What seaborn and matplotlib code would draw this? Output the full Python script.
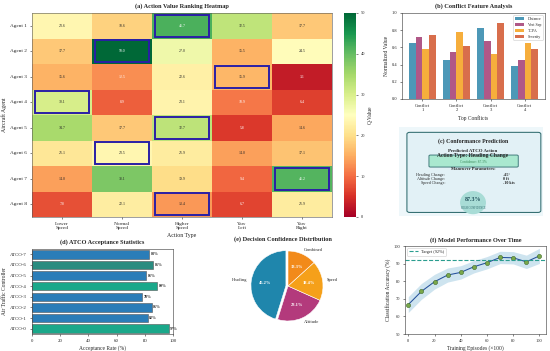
import matplotlib
matplotlib.use("Agg")
import matplotlib.pyplot as plt
from matplotlib.patches import Rectangle, FancyBboxPatch, Ellipse
from matplotlib.lines import Line2D
import numpy as np
import pandas as pd
import seaborn as sns

# ---- data ----
agents = [f"Agent {i}" for i in range(1, 9)]
actions = ["Lower\nSpeed", "Normal\nSpeed", "Higher\nSpeed", "Yaw\nLeft", "Yaw\nRight"]
q_values = np.array([
    [23.6, 18.6, 41.7, 32.5, 17.7],
    [17.7, 50.0, 27.0, 15.5, 24.5],
    [15.6, 12.5, 22.6, 15.9, 3.1],
    [30.1, 8.9, 23.1, 10.9, 6.4],
    [34.7, 17.7, 32.7, 5.8, 14.6],
    [21.1, 23.5, 21.9, 14.0, 17.1],
    [14.0, 38.1, 19.9, 9.4, 41.2],
    [7.8, 22.1, 13.4, 6.7, 21.9],
])
chosen_action = [2, 1, 3, 0, 2, 1, 4, 2]

conflicts = ["Conflict\n1", "Conflict\n2", "Conflict\n3", "Conflict\n4"]
features = ["Distance", "Vert Sep", "TCPA", "Severity"]
distance = [0.65, 0.45, 0.82, 0.38]
vert_sep = [0.72, 0.55, 0.68, 0.45]
tcpa = [0.58, 0.78, 0.52, 0.65]
severity = [0.75, 0.62, 0.88, 0.58]

atcos = [f"ATCO-{i}" for i in range(8)]
acceptance = [97, 82, 85, 78, 89, 81, 86, 83]

decision_types = ["Heading", "Altitude", "Speed", "Combined"]
decision_share = [45.2, 23.1, 18.4, 13.3]

episodes = [0, 10, 20, 30, 40, 50, 60, 70, 80, 90, 100]
accuracy = [66.7, 74.2, 79.7, 83.5, 85.0, 88.2, 90.5, 93.5, 93.3, 91.0, 94.4]
accuracy_std = [4.5, 4.5, 4.2, 4.0, 3.8, 3.5, 3.5, 3.5, 3.5, 3.8, 4.3]
target_acc = 92

# ---- style ----
sns.set_style("ticks")
plt.rcParams["font.family"] = ["Liberation Serif", "DejaVu Serif"]
plt.rcParams["font.size"] = 7.5
plt.rcParams["axes.edgecolor"] = "#333333"
plt.rcParams["axes.linewidth"] = 0.8

W, H = 550, 351
fig = plt.figure(figsize=(11, 7.02), dpi=50)


def px_axes(x0, y0, x1, y1):
    """Axes from pixel box (top-left origin)."""
    return fig.add_axes([x0 / W, 1 - y1 / H, (x1 - x0) / W, (y1 - y0) / H])


title_kw = dict(fontsize=9, fontweight="bold")

# (a) heatmap
ax_a = px_axes(32, 13, 332, 217)
cax = px_axes(344, 13, 356, 217)
df_q = pd.DataFrame(q_values, index=agents, columns=actions)
sns.heatmap(df_q, cmap="RdYlGn", vmin=0, vmax=50, annot=True, fmt=".1f",
            annot_kws={"size": 5.5}, ax=ax_a, cbar_ax=cax,
            cbar_kws={"label": "Q-Value"})
for i, j in enumerate(chosen_action):
    ax_a.add_patch(Rectangle((j + 0.05, i + 0.06), 0.9, 0.88, fill=False,
                             edgecolor="#2a1fa6", lw=2.8))
for s in ax_a.spines.values():
    s.set_visible(True)
    s.set_color("#555555")
ax_a.set_yticklabels(agents, rotation=0)
ax_a.set_xticklabels(actions, rotation=0)
ax_a.tick_params(labelsize=7.5)
ax_a.set_xlabel("Action Type", fontsize=8.5)
ax_a.set_ylabel("Aircraft Agent", fontsize=8.5)
ax_a.set_title("(a) Action Value Ranking Heatmap", pad=7, **title_kw)
cax.tick_params(labelsize=6.5)
cax.yaxis.label.set_size(8)

# (b) conflict features
ax_b = px_axes(402, 13, 545, 99)
df_b = pd.DataFrame({"conflict": conflicts * 4,
                     "feature": np.repeat(features, 4),
                     "value": distance + vert_sep + tcpa + severity})
feat_colors = ["#2E86AB", "#A23B72", "#F5A01A", "#D2552D"]
sns.barplot(data=df_b, x="conflict", y="value", hue="feature",
            palette=feat_colors, saturation=1, alpha=0.85, ax=ax_b,
            edgecolor="none")
ax_b.set_xlim(-0.6, 3.6)
ax_b.set_ylim(0, 1.0)
ax_b.set_yticks(np.arange(0, 1.01, 0.2))
ax_b.set_xlabel("Top Conflicts", fontsize=8)
ax_b.set_ylabel("Normalized Value", fontsize=8)
ax_b.tick_params(labelsize=6.5)
ax_b.legend(loc="upper right", fontsize=5.8, frameon=True, handlelength=2.4)
ax_b.set_title("(b) Conflict Feature Analysis", pad=7, **title_kw)

# (c) conformance prediction panel
ax_c = px_axes(399, 127, 543, 216)
ax_c.set_facecolor("#eef7fa")
ax_c.set_xlim(0, 1)
ax_c.set_ylim(0, 1)
ax_c.set_xticks([])
ax_c.set_yticks([])
for s in ax_c.spines.values():
    s.set_visible(False)
ax_c.add_patch(FancyBboxPatch((0.055, 0.04), 0.93, 0.9,
                              boxstyle="round,pad=0,rounding_size=0.02",
                              fc="#e2f1f6", ec="#2f6b6e", lw=1.5))
ax_c.text(0.514, 0.845, "(c) Conformance Prediction", ha="center", va="center",
          fontsize=8.5, fontweight="bold")
ax_c.text(0.514, 0.73, "Predicted ATCO Action", ha="center", va="center",
          fontsize=7, fontweight="bold")
ax_c.add_patch(FancyBboxPatch((0.208, 0.55), 0.62, 0.135,
                              boxstyle="round,pad=0,rounding_size=0.01",
                              fc="#a9e8cf", ec="#2f6b6e", lw=1.2))
ax_c.text(0.514, 0.675, "Action Type: Heading Change", ha="center", va="center",
          fontsize=8, fontweight="bold")
ax_c.text(0.514, 0.605, "Confidence: 87.3%", ha="center", va="center",
          fontsize=5, color="#3a8a5a")
ax_c.text(0.514, 0.528, "Maneuver Parameters:", ha="center", va="center",
          fontsize=6.5, fontweight="bold")
params = ["Heading Change:", "Altitude Change:", "Speed Change:"]
param_vals = ["+15°", "0 ft", "-10 kts"]
for k, (p, v) in enumerate(zip(params, param_vals)):
    yy = 0.46 - k * 0.045
    ax_c.text(0.32, yy, p, ha="right", va="center", fontsize=6)
    ax_c.text(0.72, yy, v, ha="left", va="center", fontsize=6, fontweight="bold")
ax_c.add_patch(Ellipse((0.514, 0.15), 0.18, 0.26, fc="#a8dcd6", ec="none"))
ax_c.text(0.514, 0.185, "87.3%", ha="center", va="center",
          fontsize=8.5, fontweight="bold", color="#1f4f5a")
ax_c.text(0.514, 0.095, "HIGH CONFIDENCE", ha="center", va="center",
          fontsize=4, color="#2f6b6e")

# (d) ATCO acceptance
ax_d = px_axes(32, 249, 173, 334)
bar_colors = ["#1aa88a" if a > 85 else "#2a7db8" for a in acceptance]
bar_colors[6] = "#2a8c80"
sns.barplot(x=acceptance, y=atcos, palette=bar_colors, hue=atcos, legend=False,
            orient="h", saturation=1, ax=ax_d, edgecolor="#555555",
            linewidth=0.8, order=atcos[::-1], hue_order=atcos)
for a, name in zip(acceptance, atcos):
    ax_d.text(a + 1, atcos[::-1].index(name), f"{a}%", va="center",
              fontsize=5.8, fontweight="bold")
ax_d.set_xlim(0, 100)
ax_d.set_xticks(range(0, 101, 20))
ax_d.set_xlabel("Acceptance Rate (%)", fontsize=8)
ax_d.set_ylabel("Air Traffic Controller", fontsize=8)
ax_d.tick_params(labelsize=7)
ax_d.set_title("(d) ATCO Acceptance Statistics", pad=8, **title_kw)

# (e) decision confidence pie
ax_e = px_axes(244.25, 242.25, 331.75, 329.75)
pie_colors = ["#1f86ac", "#b33a7c", "#f5a01a", "#f28a1a"]
ax_e.pie(decision_share, labels=decision_types, colors=pie_colors,
         autopct="%1.1f%%", startangle=90, explode=[0.06, 0, 0, 0],
         pctdistance=0.6, labeldistance=1.12,
         textprops={"fontsize": 6.5},
         wedgeprops={"edgecolor": "white", "linewidth": 0.8})
for t in ax_e.texts:
    if t.get_text().endswith("%"):
        t.set_color("white")
        t.set_fontweight("bold")
ax_e.set_xlim(-1.25, 1.25)
ax_e.set_ylim(-1.25, 1.25)
ax_e.set_aspect("equal")
fig.text(283 / W, 1 - 239 / H, "(e) Decision Confidence Distribution",
         ha="center", va="center", **title_kw)

# (f) model performance
ax_f = px_axes(405, 246, 546, 334)
acc = np.array(accuracy)
std = np.array(accuracy_std)
ax_f.fill_between(episodes, acc - std, acc + std, color="#a6cee3", alpha=0.55,
                  lw=0)
sns.lineplot(x=episodes, y=accuracy, ax=ax_f, color="#24509a", lw=1.5,
             marker="o", markersize=6, markerfacecolor="#7aa84a",
             markeredgecolor="#3f6a2a", markeredgewidth=0.8)
ax_f.axhline(target_acc, color="#2a9d8f", ls="--", lw=1.6)
ax_f.legend(handles=[Line2D([], [], color="#2a9d8f", ls="--", lw=1.6)],
            labels=["Target (92%)"], loc="upper left", fontsize=6.3)
ax_f.set_xlim(-2.5, 105)
ax_f.set_ylim(50, 100)
ax_f.set_xticks(range(0, 101, 20))
ax_f.set_yticks(range(50, 101, 10))
ax_f.set_xlabel("Training Episodes (×100)", fontsize=8)
ax_f.set_ylabel("Classification Accuracy (%)", fontsize=8)
ax_f.tick_params(labelsize=6.5)
ax_f.set_title("(f) Model Performance Over Time", pad=6, **title_kw)

fig.savefig("out.png", dpi=50)
